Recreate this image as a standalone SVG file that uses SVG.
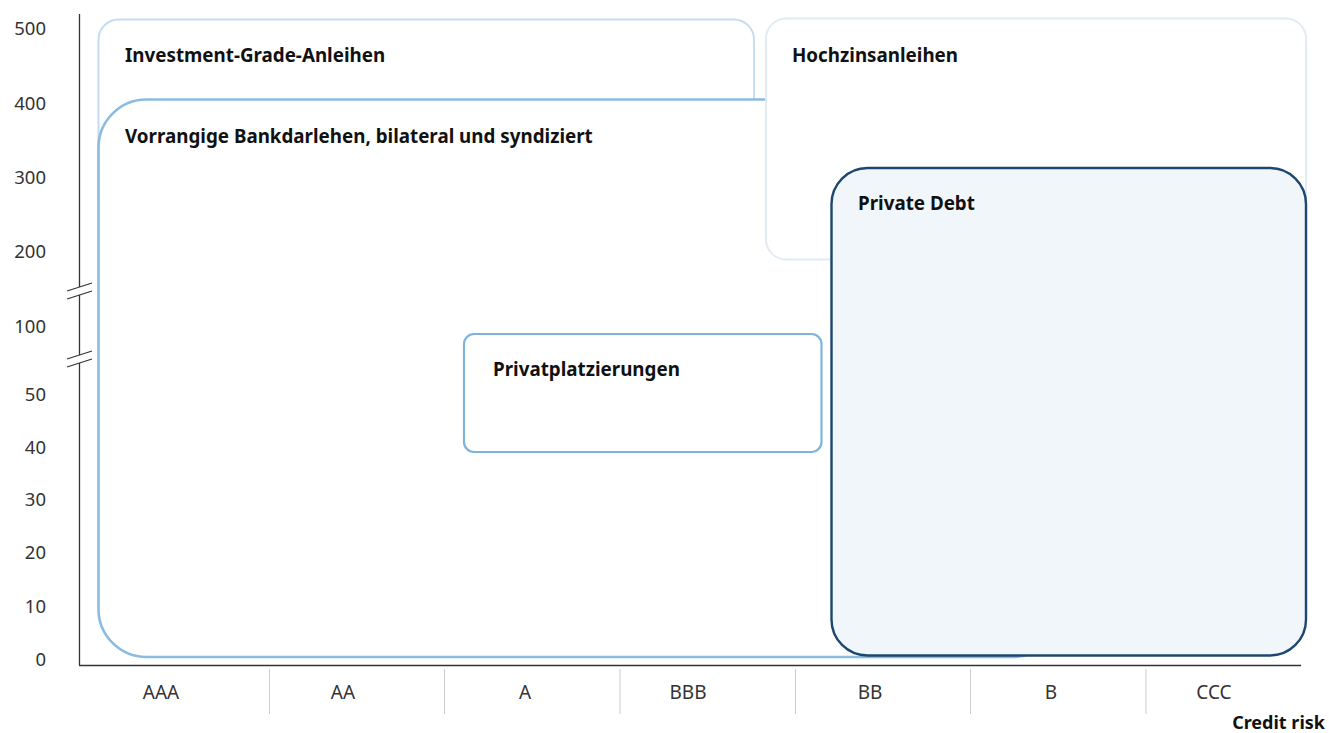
<svg xmlns="http://www.w3.org/2000/svg" width="1329" height="733" viewBox="0 0 1329 733">
<style>
.lbl{font-family:"Noto Sans","Open Sans",sans-serif;font-weight:700;font-size:18.8px;fill:#111}
.ax{font-family:"Noto Sans","Open Sans",sans-serif;font-size:18.5px;fill:#333}
.cat{font-family:"Noto Sans","Open Sans",sans-serif;font-size:19px;fill:#333;text-anchor:middle}
.sep{stroke:#cccccc;stroke-width:1}
</style>
<rect width="1329" height="733" fill="#ffffff"/>
<g id="axes">
<line x1="79.5" y1="14" x2="79.5" y2="665" stroke="#333" stroke-width="1.3"/>
<line x1="79" y1="665.5" x2="1301" y2="665.5" stroke="#333" stroke-width="1.3"/>
<polygon points="67,291 92,283 92,291 67,299" fill="#fff"/>
<line x1="67" y1="291" x2="92" y2="283" stroke="#333" stroke-width="1.2"/>
<line x1="67" y1="299" x2="92" y2="291" stroke="#333" stroke-width="1.2"/>
<polygon points="67,359 92,351 92,359 67,367" fill="#fff"/>
<line x1="67" y1="359" x2="92" y2="351" stroke="#333" stroke-width="1.2"/>
<line x1="67" y1="367" x2="92" y2="359" stroke="#333" stroke-width="1.2"/>
<g text-anchor="end">
<text class="ax" x="46" y="34.5">500</text>
<text class="ax" x="46" y="109.5">400</text>
<text class="ax" x="46" y="183.5">300</text>
<text class="ax" x="46" y="257.5">200</text>
<text class="ax" x="46" y="332.5">100</text>
<text class="ax" x="46" y="400.5">50</text>
<text class="ax" x="46" y="453.5">40</text>
<text class="ax" x="46" y="505.5">30</text>
<text class="ax" x="46" y="558.5">20</text>
<text class="ax" x="46" y="612.5">10</text>
<text class="ax" x="46" y="665.5">0</text>
</g>
<line class="sep" x1="269.5" y1="669" x2="269.5" y2="714"/>
<line class="sep" x1="444.5" y1="669" x2="444.5" y2="714"/>
<line class="sep" x1="620" y1="669" x2="620" y2="714"/>
<line class="sep" x1="795.5" y1="669" x2="795.5" y2="714"/>
<line class="sep" x1="970.5" y1="669" x2="970.5" y2="714"/>
<line class="sep" x1="1146" y1="669" x2="1146" y2="714"/>
<text class="cat" x="161" y="699">AAA</text>
<text class="cat" x="343" y="699">AA</text>
<text class="cat" x="525" y="699">A</text>
<text class="cat" x="688" y="699">BBB</text>
<text class="cat" x="870" y="699">BB</text>
<text class="cat" x="1051" y="699">B</text>
<text class="cat" x="1214" y="699">CCC</text>
<text class="lbl" x="1325" y="729" text-anchor="end" style="font-size:18px">Credit risk</text>
</g>
<g id="investment-grade">
<rect x="98.5" y="19.5" width="655.5" height="200" rx="20" fill="#fff" stroke="#c6dcf0" stroke-width="2"/>
<text class="lbl" x="125" y="62">Investment-Grade-Anleihen</text>
</g>
<g id="vorrangige">
<rect x="98.5" y="99.5" width="962" height="557.5" rx="48" fill="#fff" stroke="#8bbbe0" stroke-width="2.6"/>
<text class="lbl" x="125" y="143">Vorrangige Bankdarlehen, bilateral und syndiziert</text>
</g>
<g id="hochzins">
<rect x="766" y="18.5" width="540" height="241" rx="20" fill="#fff" stroke="#e2ebf5" stroke-width="2"/>
<text class="lbl" x="792" y="62">Hochzinsanleihen</text>
</g>
<g id="privatplatzierungen">
<rect x="464" y="334" width="357.5" height="118" rx="10" fill="#fff" stroke="#7fb3dc" stroke-width="2.2"/>
<text class="lbl" x="493" y="376">Privatplatzierungen</text>
</g>
<g id="private-debt">
<rect x="831.5" y="168" width="474.5" height="487.5" rx="36" fill="#f1f6fb" stroke="#1d4770" stroke-width="2.4"/>
<text class="lbl" x="858" y="210">Private Debt</text>
</g>
<g id="connectors"></g>
</svg>
